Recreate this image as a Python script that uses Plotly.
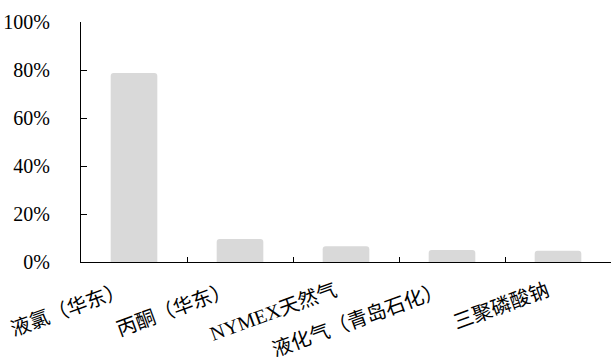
import plotly.graph_objects as go

categories = ["液氯（华东）", "丙酮（华东）", "NYMEX天然气", "液化气（青岛石化）", "三聚磷酸钠"]
values = [0.788, 0.096, 0.066, 0.05, 0.047]
y_ticks = [0, 0.2, 0.4, 0.6, 0.8, 1.0]
y_tick_labels = ["0%", "20%", "40%", "60%", "80%", "100%"]

font_family = "Liberation Serif, Noto Sans CJK SC"

fig = go.Figure()
fig.add_trace(go.Bar(
    x=categories,
    y=values,
    marker=dict(color="#d9d9d9", line=dict(width=0)),
    hoverinfo="skip",
))

fig.update_layout(
    width=612,
    height=361,
    margin=dict(l=81, r=1, t=22, b=99),
    paper_bgcolor="white",
    plot_bgcolor="white",
    bargap=0.56,
    barcornerradius=3,
    showlegend=False,
    font=dict(family=font_family, size=18, color="black"),
)

fig.update_xaxes(
    type="category",
    tickangle=-20,
    showline=True,
    linecolor="black",
    linewidth=1,
    ticks="inside",
    tickson="boundaries",
    ticklen=5,
    tickcolor="black",
    showgrid=False,
    zeroline=False,
    ticklabelstandoff=9,
    ticklabelshift=-11,
    tickfont=dict(family=font_family, size=20, color="black"),
)

fig.update_yaxes(
    range=[0, 1],
    tickvals=y_ticks,
    ticktext=y_tick_labels,
    showline=True,
    linecolor="black",
    linewidth=1,
    ticks="inside",
    ticklen=6,
    tickcolor="black",
    showgrid=False,
    zeroline=False,
    ticklabelstandoff=26,
    tickfont=dict(family=font_family, size=20, color="black"),
)

fig.write_html("out.html")
